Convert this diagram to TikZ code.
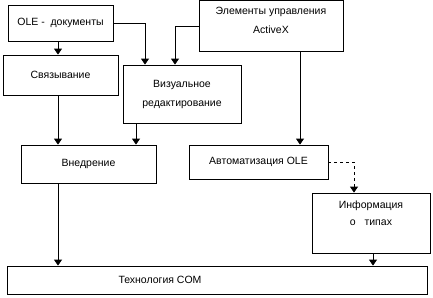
\documentclass[tikz,border=0pt]{standalone}
\usepackage{fontspec}
\setmainfont{Liberation Sans}
\usetikzlibrary{arrows.meta, positioning}
\tikzset{
    block/.style = {rectangle, draw=black, line width=0.8pt, align=center,
                    font=\fontsize{10.5}{19}\selectfont, inner sep=0pt},
    arrow/.style = {line width=0.8pt, -{Triangle[width=8pt,length=6pt]}},
    dasharrow/.style = {arrow, dash pattern=on 3pt off 3pt},
}
\begin{document}
\begin{tikzpicture}[x=1pt, y=-1pt]
\path[fill=white, use as bounding box] (0,0) rectangle (433,297);

\node (ole) [block, minimum width=105, minimum height=36] at (60.5,23) {OLE -\ \ документы};
\node (link) [block, minimum width=115, minimum height=40] at (60.5,75) {Связывание};
\node (vis) [block, minimum width=118, minimum height=58] at (182,94) {Визуальное\\редактирование};
\node (activex) [block, minimum width=144, minimum height=51, text depth=11] at (271,26) {Элементы управления\\ActiveX};
\node (embed) [block, minimum width=135, minimum height=38] at (88.5,164) {Внедрение};
\node (auto) [block, minimum width=139, minimum height=34] at (258.5,162) {Автоматизация OLE};
\node (info) [block, minimum width=118, minimum height=60, text depth=20, font=\fontsize{10.5}{17}\selectfont] at (371,223) {Информация\\о\ \ \ типах};
\node (com) [block, minimum width=420, minimum height=28] at (217,280) {};
\node (comtext) [font=\fontsize{10.5}{12}\selectfont, inner sep=0pt] at (160,280) {Технология COM};

% Arrows
\draw[arrow] (ole.south -| 58,0) -- (link.north -| 58,0);
\draw[arrow] (ole.east) -| ([xshift=-37]vis.north);
\draw[arrow] (activex.west) -| ([xshift=-7]vis.north);
\draw[arrow] (link.south -| 58,0) -- (embed.north -| 58,0);
\draw[arrow] ([xshift=-46]vis.south) -- ([xshift=-46]vis.south |- embed.north);
\draw[arrow] ([xshift=29]activex.south) -- ([xshift=29]activex.south |- auto.north);
\draw[arrow] (embed.south -| 58,0) -- (com.north -| 58,0);
\draw[dasharrow] (auto.east) -| ([xshift=-17]info.north);
\draw[arrow] ([xshift=2]info.south) -- ([xshift=2]info.south |- com.north);
\end{tikzpicture}
\end{document}
